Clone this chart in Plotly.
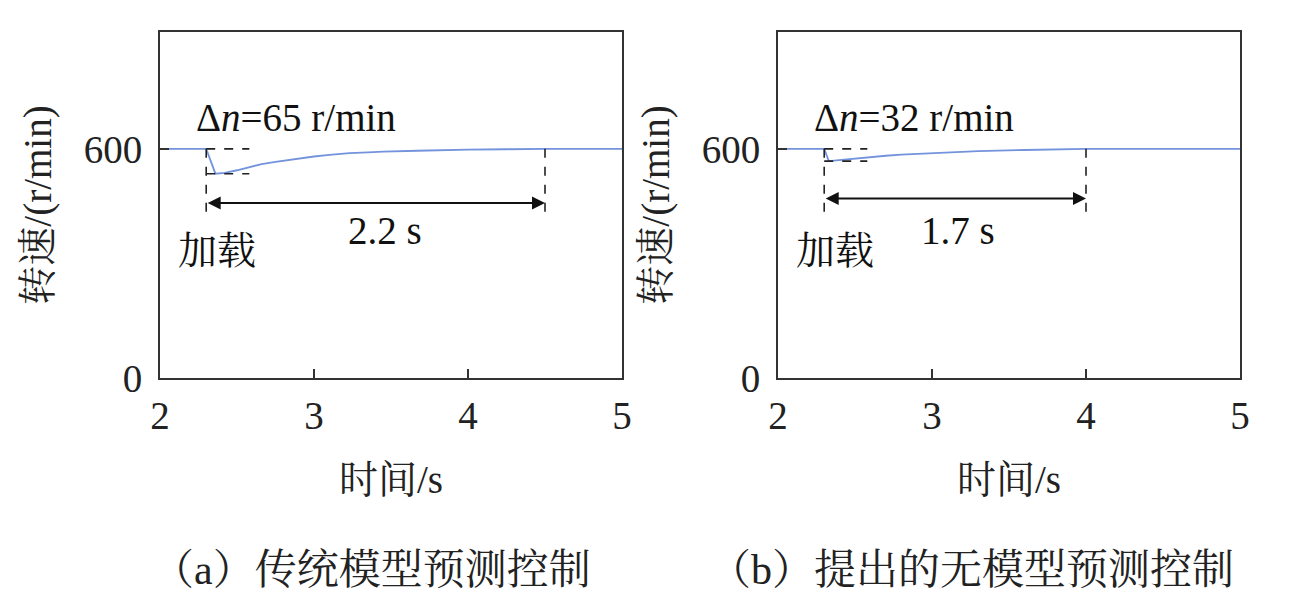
import plotly.graph_objects as go
from plotly.subplots import make_subplots

# speed response after load step
t_a = [2.0, 2.3, 2.36, 2.42, 2.5, 2.58, 2.66, 2.75, 2.83, 2.91, 3.0, 3.1, 3.23,
       3.35, 3.45, 3.67, 3.85, 4.0, 4.25, 4.5, 5.0]
n_a = [600, 600, 535, 537, 544, 553, 560, 566, 571, 576, 580, 584, 589,
       591, 593, 595, 597, 598, 599, 600, 600]
t_b = [2.0, 2.3, 2.33, 2.4, 2.5, 2.6, 2.7, 2.8, 3.0, 3.15, 3.3, 3.6, 3.8, 4.0, 5.0]
n_b = [600, 600, 568, 571, 575, 579, 582, 585, 589, 592, 594, 597, 599, 600, 600]

load_t = 2.3
settle_t = [4.5, 4.0]
dip_n = [535, 568]
drop_text = ["Δ<i>n</i>=65 r/min", "Δ<i>n</i>=32 r/min"]
time_text = ["2.2 s", "1.7 s"]
captions = ["（a）传统模型预测控制", "（b）提出的无模型预测控制"]

xticks = [2, 3, 4, 5]
yticks = [0, 600]

FONT = "Liberation Serif, Noto Serif CJK SC, Noto Sans CJK SC, serif"
FS = 39
# page body keeps an 8 px margin, so the figure is a bit smaller and shifted
OFF = 8
W, H = 1294 - OFF, 614 - OFF


def px(x):
    return (x - OFF) / W


def py(y):
    return 1 - (y - OFF) / H


fig = make_subplots(rows=1, cols=2)
for i, (t, n) in enumerate([(t_a, n_a), (t_b, n_b)]):
    fig.add_trace(go.Scatter(x=t, y=n, mode="lines",
                             line=dict(color="#7393dc", width=1.8),
                             showlegend=False), row=1, col=i + 1)

xdom = [[px(160), px(622)], [px(778), px(1240)]]
ydom = [py(378), py(32)]

for i in range(2):
    xa = "xaxis" if i == 0 else "xaxis2"
    ya = "yaxis" if i == 0 else "yaxis2"
    fig.layout[xa].update(domain=xdom[i], range=[2, 5], tickvals=xticks,
                          ticks="inside", ticklen=9, tickwidth=1.5, tickcolor="#333",
                          showline=True, linecolor="#333", linewidth=2, mirror=True,
                          showgrid=False, zeroline=False, automargin=False,
                          ticklabelstandoff=2,
                          tickfont=dict(size=FS, color="#222"),
                          title=dict(text="时间/s", font=dict(size=FS, color="#222"), standoff=30))
    fig.layout[ya].update(domain=ydom, range=[0, 906], tickvals=yticks,
                          ticks="inside", ticklen=9, tickwidth=1.5, tickcolor="#333",
                          showline=True, linecolor="#333", linewidth=2, mirror=True,
                          showgrid=False, zeroline=False, automargin=False,
                          ticklabelstandoff=8,
                          tickfont=dict(size=FS, color="#222"),
                          title=dict(text="转速/(r/min)", font=dict(size=FS, color="#222"), standoff=20))

    xr = "x" if i == 0 else "x2"
    yr = "y" if i == 0 else "y2"
    dash = dict(color="#222", width=1.6, dash="dash")
    # dip markers
    for yv in [600, dip_n[i]]:
        fig.add_shape(type="line", xref=xr, yref=yr, x0=load_t, x1=2.58, y0=yv, y1=yv, line=dash)
    # time span markers
    fig.add_shape(type="line", xref=xr, yref=yr, x0=load_t, x1=load_t, y0=600, y1=420, line=dash)
    fig.add_shape(type="line", xref=xr, yref=yr, x0=settle_t[i], x1=settle_t[i], y0=600, y1=420, line=dash)
    arrow_y = 458 if i == 0 else 470
    fig.add_annotation(xref=xr, yref=yr, axref=xr, ayref=yr,
                       x=settle_t[i], y=arrow_y, ax=load_t, ay=arrow_y,
                       text="", showarrow=True, arrowhead=2, startarrowhead=2,
                       arrowside="end+start", arrowsize=1.3, arrowwidth=2, arrowcolor="#111")
    fig.add_annotation(xref=xr, yref=yr, x=2.88, y=683, text=drop_text[i], showarrow=False,
                       font=dict(size=FS, color="#111"))
    fig.add_annotation(xref=xr, yref=yr, x=[3.46, 3.17][i], y=385,
                       text=time_text[i], showarrow=False, font=dict(size=FS, color="#111"))
    fig.add_annotation(xref=xr, yref=yr, x=2.37, y=335, text="加载", showarrow=False,
                       font=dict(size=FS, color="#111"))
    fig.add_annotation(xref="paper", yref="paper", x=px([371, 971][i]), y=py(570),
                       xanchor="center", yanchor="middle",
                       text=captions[i], showarrow=False, font=dict(size=42, color="#222"))

fig.update_layout(width=W, height=H, margin=dict(l=0, r=0, t=0, b=0, autoexpand=False),
                  plot_bgcolor="white", paper_bgcolor="white",
                  font=dict(family=FONT, color="#222"))

fig.write_html("out.html")
